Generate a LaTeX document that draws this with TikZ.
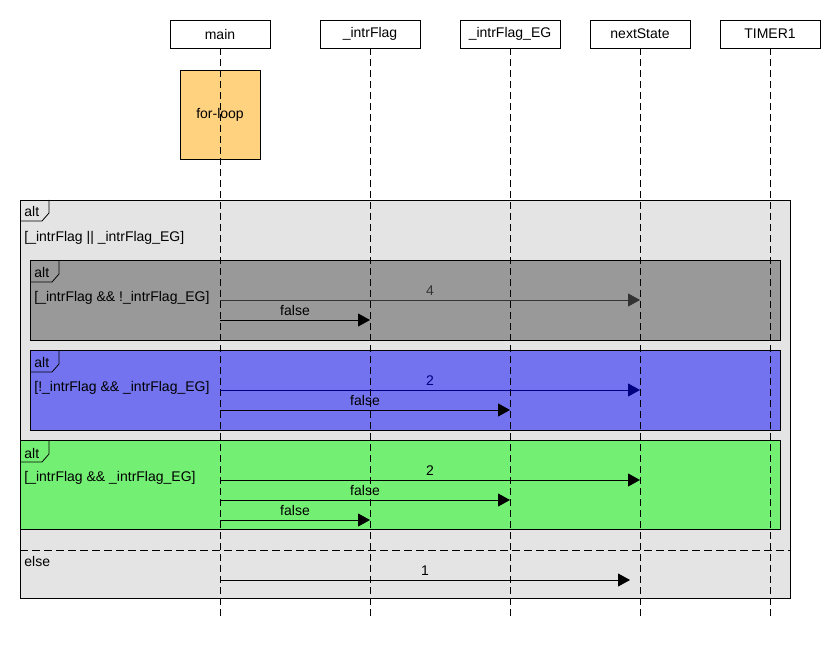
\documentclass[tikz,border=0pt]{standalone}
\usepackage{fontspec}
\setmainfont{Liberation Sans}
\usetikzlibrary{arrows.meta}
\definecolor{outerGray}{RGB}{228,228,228}
\definecolor{altGray}{RGB}{153,153,153}
\definecolor{altBlue}{RGB}{115,115,240}
\definecolor{altGreen}{RGB}{115,240,115}
\definecolor{loopOrange}{RGB}{255,210,128}
\definecolor{msgGray}{RGB}{51,51,51}
\definecolor{msgNavy}{RGB}{0,0,128}
\begin{document}
\begin{tikzpicture}[x=1pt,y=-1pt,line width=0.8pt,
	every node/.style={font=\fontsize{14}{16}\selectfont},
	head/.style={draw=black,fill=white,minimum width=100pt,minimum height=28pt,inner sep=0pt},
	frag/.style={draw=black,anchor=north west,inner sep=0pt,minimum width=750pt,minimum height=80pt},
	life/.style={dash pattern=on 7pt off 4pt},
	msg/.style={-{Triangle[length=12pt,width=13pt]}},
	lbl/.style={anchor=west,inner sep=0pt}]
	\useasboundingbox (0,0) rectangle (840,660);
	% fragments
	\node[frag,fill=outerGray,minimum width=770pt,minimum height=398pt] (outer) at (20,200) {};
	\draw (outer.north west) ++(0,21) -- ++(22,0) -- ++(7,-8) -- ++(0,-13);
	\node[lbl] at (24,211) {alt};
	\node[lbl] at (24,238) {[\_intrFlag || \_intrFlag\_EG]};
	\node[frag,fill=altGray] (altA) at (30,260) {};
	\draw (altA.north west) ++(0,22) -- ++(22,0) -- ++(7,-8) -- ++(0,-14);
	\node[lbl] at (34,272) {alt};
	\node[lbl] at (34,298) {[\_intrFlag \&\& !\_intrFlag\_EG]};
	\node[frag,fill=altBlue] (altB) at (30,350) {};
	\draw (altB.north west) ++(0,22) -- ++(22,0) -- ++(7,-8) -- ++(0,-14);
	\node[lbl] at (34,362) {alt};
	\node[lbl] at (34,388) {[!\_intrFlag \&\& \_intrFlag\_EG]};
	\node[frag,fill=altGreen,minimum width=760pt,minimum height=89pt] (altC) at (20,440) {};
	\draw (altC.north west) ++(0,22) -- ++(22,0) -- ++(7,-8) -- ++(0,-14);
	\node[lbl] at (24,453) {alt};
	\node[lbl] at (24,478) {[\_intrFlag \&\& \_intrFlag\_EG]};
	\draw[dash pattern=on 8pt off 4pt] (outer.west |- 0,550) -- (outer.east |- 0,550);
	\node[lbl] at (24,561) {else};
	% heads and lifelines
	\node[head] (main) at (220,34) {main};
	\node[head] (flag) at (370,34) {\_intrFlag};
	\node[head] (flagEG) at (510,34) {\_intrFlag\_EG};
	\node[head] (next) at (640,34) {nextState};
	\node[head] (timer) at (770,34) {TIMER1};
	\node[draw=black,fill=loopOrange,minimum width=80pt,minimum height=89pt,inner sep=0pt] (loop) at (220,114.5) {for-loop};
	\foreach \h in {main,flag,flagEG,next,timer}
		\draw[life] (\h.south) -- (\h |- 0,618);
	% messages
	\draw[msg,msgGray] (main |- 0,300) -- (next |- 0,300) node[midway,above=1pt] {4};
	\draw[msg] (main |- 0,320) -- (flag |- 0,320) node[midway,above=1pt] {false};
	\draw[msg,msgNavy] (main |- 0,390) -- (next |- 0,390) node[midway,above=1pt] {2};
	\draw[msg] (main |- 0,410) -- (flagEG |- 0,410) node[midway,above=1pt] {false};
	\draw[msg] (main |- 0,480) -- (next |- 0,480) node[midway,above=1pt] {2};
	\draw[msg] (main |- 0,500) -- (flagEG |- 0,500) node[midway,above=1pt] {false};
	\draw[msg] (main |- 0,520) -- (flag |- 0,520) node[midway,above=1pt] {false};
	\coordinate (elseEnd) at (630,580);
	\draw[msg] (main |- elseEnd) -- (elseEnd) node[midway,above=1pt] {1};
\end{tikzpicture}
\end{document}
